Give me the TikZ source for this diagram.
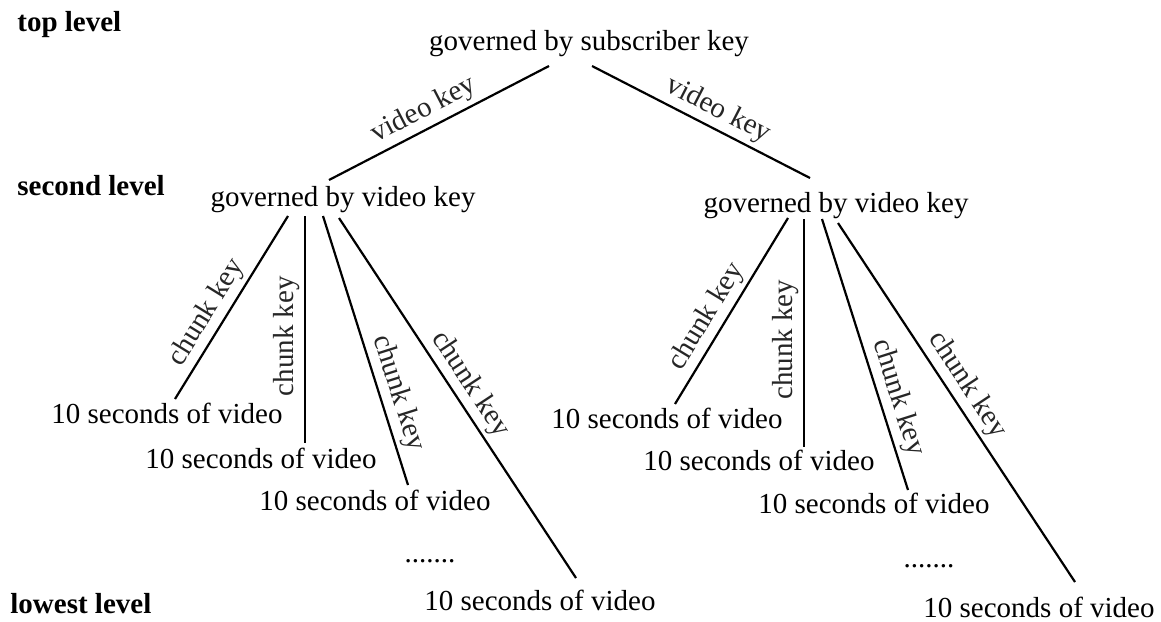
\documentclass[tikz,border=0pt]{standalone}
\usepackage{fontspec}
\setmainfont{LiberationSerif}[Extension=.ttf, UprightFont=*-Regular, BoldFont=*-Bold, ItalicFont=*-Italic, BoldItalicFont=*-BoldItalic]
\begin{document}
\begin{tikzpicture}[x=0.5pt,y=-0.5pt,
  txt/.style={font=\fontsize{14.5}{17}\selectfont, inner sep=0pt, anchor=base},
  lvl/.style={font=\fontsize{14.5}{17}\selectfont\bfseries, inner sep=0pt, anchor=base west},
  link/.style={line width=1.1pt, black},
  lab/.style={font=\fontsize{14.5}{17}\selectfont, inner sep=2pt, text=black!85}]
\useasboundingbox (0,0) rectangle (1161,621);
% level labels
\node[lvl] (lv1) at (17,32) {top level};
\node[lvl] (lv2) at (17,195) {second level};
\node[lvl] (lv3) at (10,613) {lowest level};
% nodes
\node[txt] (T) at (589,50) {governed by subscriber key};
\node[txt] (L) at (343,206) {governed by video key};
\node[txt] (R) at (836,212) {governed by video key};
\node[txt] (L1) at (167,423) {10 seconds of video};
\node[txt] (L2) at (261,468) {10 seconds of video};
\node[txt] (L3) at (375,510) {10 seconds of video};
\node[txt] (L4) at (540,610) {10 seconds of video};
\node[txt] (Ld) at (430,562) {.......};
\node[txt] (R1) at (667,428) {10 seconds of video};
\node[txt] (R2) at (759,470) {10 seconds of video};
\node[txt] (R3) at (874,513) {10 seconds of video};
\node[txt] (R4) at (1039,617) {10 seconds of video};
\node[txt] (Rd) at (929,567) {.......};
% top edges
\draw[link] ([shift={(-40,16)}]T.base) -- node[lab, sloped, above, pos=0.53] {video key} ([shift={(-14,-26)}]L.base);
\draw[link] ([shift={(3,16)}]T.base) -- node[lab, sloped, above, pos=0.54] {video key} ([shift={(-26,-34)}]R.base);
% left subtree
\draw[link] ([shift={(-55,10)}]L.base) -- node[lab, sloped, above, pos=0.58] {chunk key} ([shift={(8,-24)}]L1.base);
\draw[link] ([shift={(-38,10)}]L.base) -- node[lab, rotate=90, anchor=south, pos=0.53] {chunk key} ([shift={(44,-25)}]L2.base);
\draw[link] ([shift={(-20,10)}]L.base) -- node[lab, sloped, above, pos=0.68] {chunk key} ([shift={(33,-25)}]L3.base);
\draw[link] ([shift={(-4,12)}]L.base) -- node[lab, sloped, above, pos=0.49] {chunk key} ([shift={(36,-32)}]L4.base);
% right subtree
\draw[link] ([shift={(-48,6)}]R.base) -- node[lab, sloped, above, pos=0.58] {chunk key} ([shift={(8,-24)}]R1.base);
\draw[link] ([shift={(-32,7)}]R.base) -- node[lab, rotate=90, anchor=south, pos=0.53] {chunk key} ([shift={(45,-23)}]R2.base);
\draw[link] ([shift={(-14,7)}]R.base) -- node[lab, sloped, above, pos=0.68] {chunk key} ([shift={(34,-23)}]R3.base);
\draw[link] ([shift={(2,11)}]R.base) -- node[lab, sloped, above, pos=0.48] {chunk key} ([shift={(36,-35)}]R4.base);
\end{tikzpicture}
\end{document}
